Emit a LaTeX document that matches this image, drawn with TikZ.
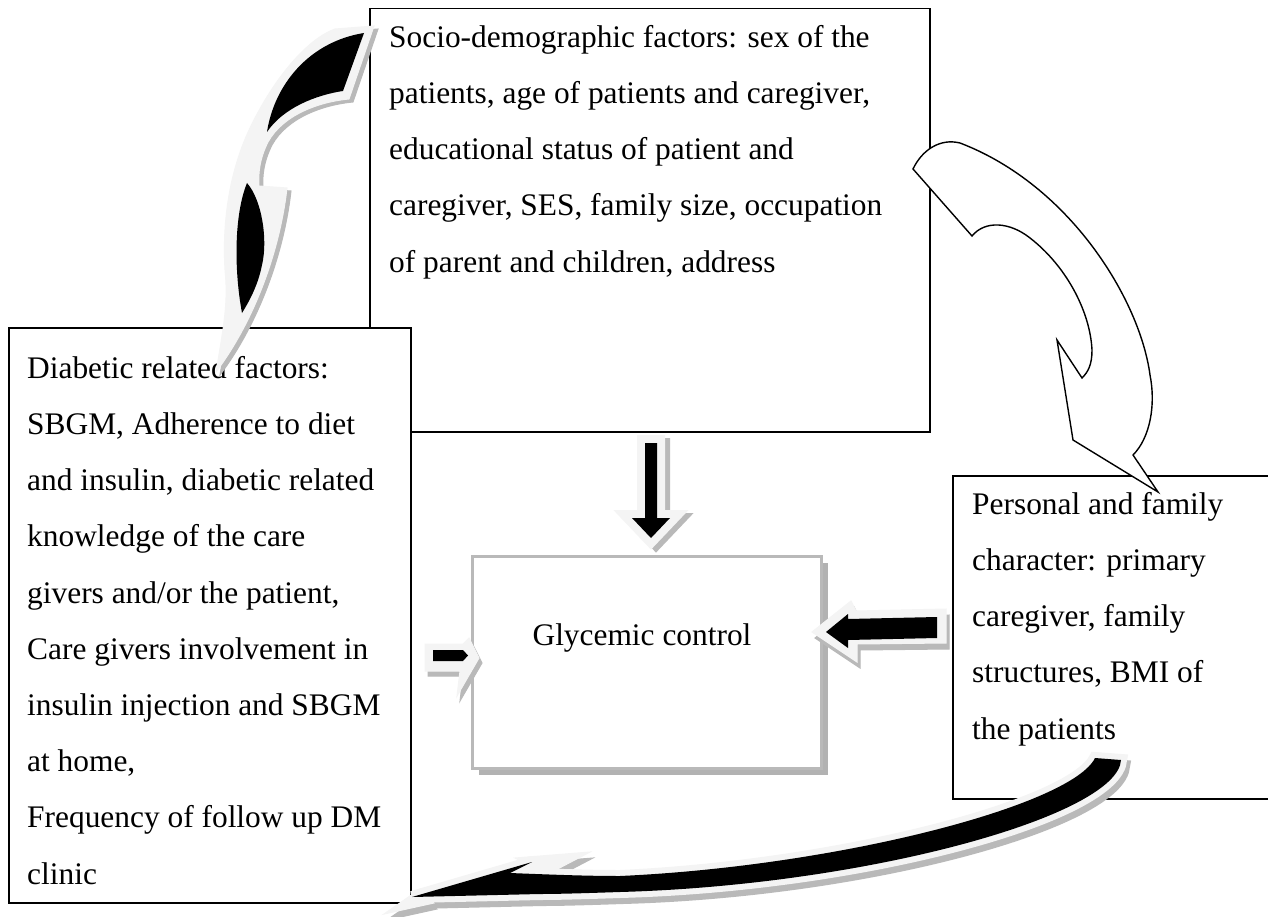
\documentclass[tikz,border=0pt]{standalone}
\usepackage{fontspec}
\setmainfont{Liberation Serif}
\def\bkDown{(645,443) -- (657,443) -- (657,518) -- (670,518) -- (651,538) -- (632,518) -- (645,518) -- cycle}
\def\ltLeft{(425,644) -- (463,644) -- (469,638) -- (479,658) -- (457,696) -- (460,671) -- (425,671) -- cycle}
\def\bkLeft{(433,650) -- (463,650) -- (468,655.5) -- (463,661) -- (433,661) -- cycle}
\def\ltRight{(946,609) -- (856,611) -- (851,601) -- (812,632) -- (857,662) -- (857,644) -- (946,643) -- cycle}
\def\bkRight{(937,617) -- (848,619) -- (848,614) -- (826,632) -- (848,648) -- (848,640) -- (937,638) -- cycle}
\def\ltTL{(374,26) -- (349,99) .. controls (318,102) and (283,115) .. (268,142) .. controls (260,158) and (258,172) .. (259,186) -- (287,188) .. controls (280,250) and (255,320) .. (216,372) .. controls (225,320) and (228,300) .. (225,270) .. controls (222,220) and (230,170) .. (250,128) .. controls (272,82) and (305,40) .. (335,29) -- cycle}
\def\bkTLa{(364,33) -- (343,91) .. controls (316,95) and (283,108) .. (267,132) .. controls (274,86) and (308,42) .. (364,33) -- cycle}
\def\bkTLb{(247,183) .. controls (262,200) and (268,240) .. (262,265) .. controls (258,285) and (250,300) .. (242,313) .. controls (234,270) and (234,215) .. (247,183) -- cycle}
\def\bkBot{(1095,758) -- (1121,760) .. controls (1118,815) and (870,885) .. (620,892) .. controls (590,893) and (560,894) .. (540,894) -- (412,897) -- (532,862) -- (510,873) .. controls (560,875) and (590,876) .. (620,876) .. controls (840,866) and (1072,805) .. (1095,758) -- cycle}
\def\ltBarb{(515,858) -- (590,852) -- (548,874) -- cycle}
\def\ltSpike{(420,889) -- (384,914) -- (434,903) -- cycle}
\def\wtTR{(913,169) -- (972,236) .. controls (985,220) and (1010,222) .. (1030,238) .. controls (1065,265) and (1090,310) .. (1092,350) .. controls (1092,365) and (1088,372) .. (1082,378) -- (1057,340) -- (1073,440) -- (1158,492) -- (1133,455) .. controls (1150,438) and (1156,405) .. (1150,375) .. controls (1140,300) and (1070,185) .. (960,143) .. controls (940,138) and (922,150) .. (913,169) -- cycle}
\begin{document}
\begin{tikzpicture}[x=1pt,y=-1pt,
  box/.style={draw=black,line width=1.5pt,fill=white,inner sep=0pt,anchor=north west},
  txt/.style={font=\fontsize{31.4}{56.2}\selectfont,align=left,inner sep=0pt,anchor=north west},
  lite/.style={fill=gray!9,draw=gray!9,line join=miter,miter limit=10},
  shade/.style={fill=gray!55,draw=gray!55,line join=miter,miter limit=10},
  blk/.style={fill=black},
  ]
\useasboundingbox (0,0) rectangle (1268,917);
\clip (0,0) rectangle (1268,917);
\fill[white] (0,0) rectangle (1268,917);
% boxes
\node[box,minimum width=560,minimum height=423] (socio) at (369,8) {};
\node[box,minimum width=402,minimum height=575] (diab) at (8,327) {};
\node[box,minimum width=400,minimum height=323] (pers) at (952,475) {};
\node[txt] (sociotext) at (389,25) {Socio-demographic factors: sex of the\\patients, age of patients and caregiver,\\educational status of patient and\\caregiver, SES, family size, occupation\\of parent and children, address};
\node[txt] (diabtext) at (27,356) {Diabetic related factors:\\SBGM, Adherence to diet\\and insulin, diabetic related\\knowledge of the care\\givers and/or the patient,\\Care givers involvement in\\insulin injection and SBGM\\at home,\\Frequency of follow up DM\\clinic};
\node[txt] (perstext) at (972,492) {Personal and family\\character: primary\\caregiver, family\\structures, BMI of\\the patients};
% glycemic box
\fill[gray!60] (479,563) rectangle (828,775);
\node[draw=gray!55,line width=3pt,fill=white,minimum width=349,minimum height=212,inner sep=0pt,anchor=north west] (glyc) at (471,555) {};
\node[font=\fontsize{31.4}{56}\selectfont,anchor=base,inner sep=0pt] (glyctext) at (642,645) {Glycemic control};
% down arrow
\begin{scope}[shift={(5,3)}]\path[shade,line width=16pt] \bkDown;\end{scope}
\path[lite,line width=16pt] \bkDown;
\path[blk] \bkDown;
% left small arrow
\begin{scope}[shift={(3,5)}]\path[shade,line width=1pt] \ltLeft;\end{scope}
\path[lite,line width=1pt] \ltLeft;
\path[blk] \bkLeft;
% right arrow
\begin{scope}[shift={(3,6)}]\path[shade,line width=1pt] \ltRight;\end{scope}
\path[lite,line width=1pt] \ltRight;
\path[blk] \bkRight;
% top-left curved arrow
\begin{scope}[shift={(4,3)}]\path[shade,line width=1pt] \ltTL;\end{scope}
\path[lite,line width=1pt] \ltTL;
\path[blk] \bkTLa;
\path[blk] \bkTLb;
% bottom curved arrow
\begin{scope}[shift={(3,6)}]
  \path[shade,line width=12pt,miter limit=4] \bkBot;
  \path[shade,line width=1pt] \ltBarb;
  \path[shade,line width=1pt] \ltSpike;
\end{scope}
\path[lite,line width=12pt,miter limit=4] \bkBot;
\path[lite,line width=1pt] \ltBarb;
\path[lite,line width=1pt] \ltSpike;
\path[blk] \bkBot;
% top-right white arrow
\path[fill=white,draw=black,line width=1.4pt,line join=miter] \wtTR;
\end{tikzpicture}
\end{document}
